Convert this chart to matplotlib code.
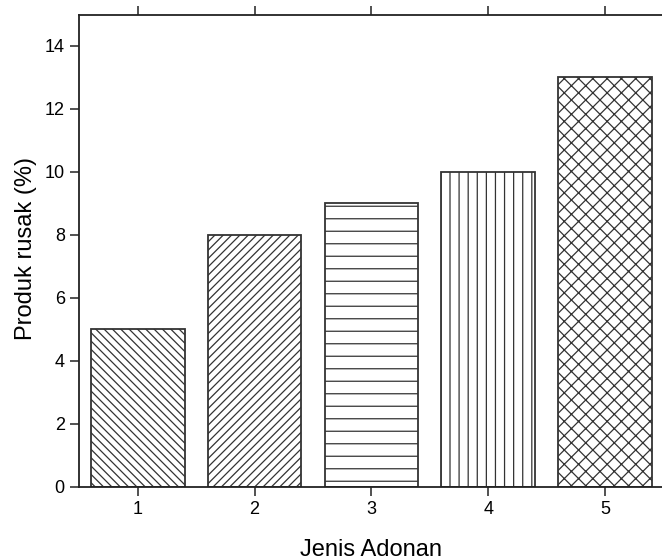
import matplotlib
matplotlib.use("Agg")
import matplotlib.pyplot as plt
import matplotlib.hatch as mhatch
from matplotlib.backend_bases import GraphicsContextBase

# ---- data ----
categories = [1, 2, 3, 4, 5]
values = [5, 8, 9, 10, 13]
hatches = ['\\', '/', '-', '|', 'x']
yticks = [0, 2, 4, 6, 8, 10, 12, 14]
xlabel = "Jenis Adonan"
ylabel = "Produk rusak (%)"

# per-pattern hatch density to mimic the reference spacing
HATCH_DENSITY = {'\\': 24, '/': 24, '-': 8, '|': 11, 'x': 14}

def _get_hatch_path(self, density=6.0):
    h = self.get_hatch()
    if h is None:
        return None
    return mhatch.get_path(h, HATCH_DENSITY.get(h, density))

GraphicsContextBase.get_hatch_path = _get_hatch_path

plt.rcParams['font.family'] = ['Liberation Sans', 'DejaVu Sans']
plt.rcParams['hatch.linewidth'] = 0.9
plt.rcParams['hatch.color'] = '#666666'

W, H = 662, 559
fig = plt.figure(figsize=(W / 100, H / 100), dpi=100)
left, right, top, bottom = 79.4, 663.4, 14.5, 486.8
ax = fig.add_axes([left / W, (H - bottom) / H, (right - left) / W, (bottom - top) / H])

for x, v, h in zip(categories, values, hatches):
    ax.bar(x, v, width=0.8, facecolor='white', edgecolor='#333333',
           linewidth=1.3, hatch=h, zorder=2)

ax.set_xlim(0.5, 5.5)
ax.set_ylim(0, 15)
ax.set_xticks(categories)
ax.set_yticks(yticks)
ax.tick_params(axis='both', which='major', direction='out', length=6.5,
               width=1.1, labelsize=13, pad=4, color='#222222')
ax.tick_params(axis='x', top=True, labeltop=False)
ax.tick_params(axis='y', right=False)
for s in ax.spines.values():
    s.set_linewidth(1.3)
    s.set_color('#222222')

fig.text(((left + right) / 2) / W, (H - 555.5) / H, xlabel, ha='center',
         va='baseline', fontsize=17)
fig.text(32.5 / W, (H - 248) / H, ylabel, rotation=90, ha='center',
         va='baseline', rotation_mode='anchor', fontsize=17)

fig.savefig("out.png", dpi=100)
